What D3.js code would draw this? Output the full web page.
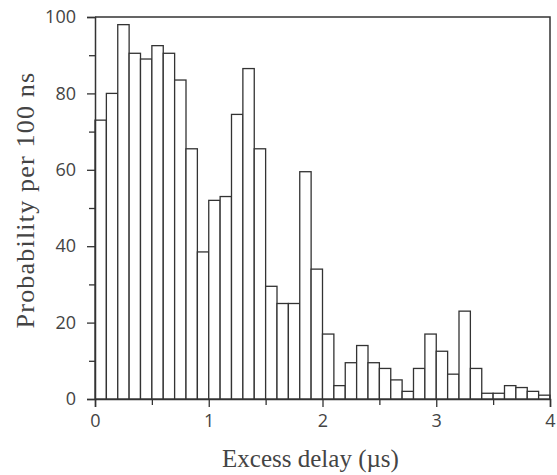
<!DOCTYPE html>
<html>
<head>
<meta charset="utf-8">
<script src="https://cdn.jsdelivr.net/npm/d3@7"></script>
<style>
  body { margin: 0; background: #fff; }
  svg { display: block; }
</style>
</head>
<body>
<svg id="chart"></svg>
<script>
// data: probability per 100 ns bin, 0 - 4 us
const binWidth = 0.1
const probability = [
    73, 80, 98, 90.5, 89, 92.5, 90.5, 83.5, 65.5, 38.5,
    52, 53, 74.5, 86.5, 65.5, 29.5, 25, 25, 59.5, 34,
    17, 3.5, 9.5, 14, 9.5, 8, 5, 2, 8, 17,
    12.5, 6.5, 23, 8, 1.5, 1.5, 3.5, 3, 2, 1
]
const xTicks = [0, 1, 2, 3, 4]
const xMinorTicks = [0.5, 1.5, 2.5, 3.5]
const yTicks = [0, 20, 40, 60, 80, 100]
const yMinorTicks = [10, 30, 50, 70, 90]

const width = 557
const height = 475
const margin = { top: 17, right: 7, bottom: 76, left: 95 }
const ink = '#333'

const svg = d3.select('#chart')
    .attr('width', width)
    .attr('height', height)

const x = d3.scaleLinear().domain([0, 4]).range([margin.left, width - margin.right])
const y = d3.scaleLinear().domain([0, 100]).range([height - margin.bottom, margin.top])

// bars
svg.append('g')
    .selectAll('rect')
    .data(probability)
    .join('rect')
    .attr('x', (d, i) => x(i * binWidth))
    .attr('y', d => y(d))
    .attr('width', x(binWidth) - x(0))
    .attr('height', d => y(0) - y(d))
    .attr('fill', 'white')
    .attr('stroke', ink)
    .attr('stroke-width', 1.3)

// frame (top + right)
svg.append('path')
    .attr('d', `M${x(0)},${y(100)}H${x(4)}V${y(0)}`)
    .attr('fill', 'none')
    .attr('stroke', ink)
    .attr('stroke-width', 1.5)

// x axis
svg.append('g')
    .attr('transform', `translate(0,${y(0)})`)
    .call(d3.axisBottom(x).tickValues(xTicks).tickSize(8).tickPadding(7).tickFormat(d3.format('d')))
svg.append('g')
    .attr('transform', `translate(0,${y(0)})`)
    .call(d3.axisBottom(x).tickValues(xMinorTicks).tickSize(6).tickFormat(''))
    .call(g => g.select('.domain').remove())

// y axis
svg.append('g')
    .attr('transform', `translate(${x(0)},0)`)
    .call(d3.axisLeft(y).tickValues(yTicks).tickSize(8).tickPadding(11))
svg.append('g')
    .attr('transform', `translate(${x(0)},0)`)
    .call(d3.axisLeft(y).tickValues(yMinorTicks).tickSize(6).tickFormat(''))
    .call(g => g.select('.domain').remove())

svg.selectAll('.domain').attr('stroke', ink).attr('stroke-width', 1.5)
svg.selectAll('.tick line').attr('stroke', ink).attr('stroke-width', 1.3)
svg.selectAll('.tick text')
    .attr('fill', '#444')
    .style('font-family', '"Open Sans", sans-serif')
    .style('font-size', '18px')

// titles
svg.append('text')
    .attr('x', (x(0) + x(4)) / 2 - 12)
    .attr('y', 467)
    .attr('text-anchor', 'middle')
    .attr('fill', '#444')
    .style('font-family', '"Liberation Serif", serif')
    .style('font-size', '25px')
    .text('Excess delay (µs)')

svg.append('text')
    .attr('transform', `translate(34,${(y(0) + y(100)) / 2 - 8}) rotate(-90)`)
    .attr('text-anchor', 'middle')
    .attr('fill', '#444')
    .style('font-family', '"Liberation Serif", serif')
    .style('font-size', '26px')
    .style('letter-spacing', '1.2px')
    .text('Probability per 100 ns')
</script>
</body>
</html>
